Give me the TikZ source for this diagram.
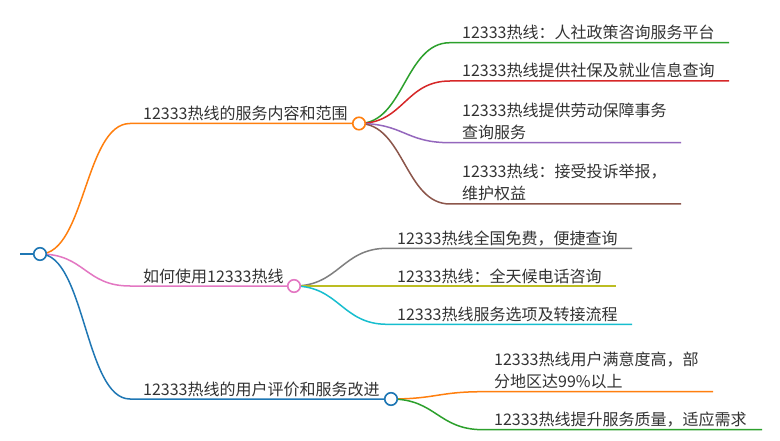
\documentclass[tikz,border=0pt]{standalone}
\usepackage{fontspec}
\setmainfont{Noto Sans CJK SC}
\usetikzlibrary{backgrounds}
\definecolor{cOr}{HTML}{FF7F0E}
\definecolor{cPk}{HTML}{E377C2}
\definecolor{cBl}{HTML}{1F77B4}
\definecolor{cGr}{HTML}{2CA02C}
\definecolor{cRd}{HTML}{D62728}
\definecolor{cPu}{HTML}{9467BD}
\definecolor{cBr}{HTML}{8C564B}
\definecolor{cGy}{HTML}{7F7F7F}
\definecolor{cOl}{HTML}{BCBD22}
\definecolor{cCy}{HTML}{17BECF}
\definecolor{txt}{HTML}{333333}
\begin{document}
\begin{tikzpicture}[x=1pt,y=-1pt,
  dot/.style={circle,draw,fill=white,line width=1.6pt,minimum size=12.5pt,inner sep=0pt},
  lbl/.style={anchor=base west,inner sep=0pt,font=\fontsize{16}{22}\selectfont,text=txt,align=left},
  br/.style={line width=1.5pt}]
\useasboundingbox (0,0) rectangle (780,441);
% hub nodes
\node[dot,draw=cBl] (root) at (40,254) {};
\coordinate (rin) at (20,254);
\node[dot,draw=cOr] (c1) at (359,123.5) {};
\node[dot,draw=cPk] (c2) at (294,286) {};
\node[dot,draw=cBl] (c3) at (391,399) {};
\coordinate (a1) at (130,123.5);
\coordinate (a2) at (130,286);
\coordinate (a3) at (130,399);
% main labels
\node[lbl] (t1) at (143,119.5) {12333热线的服务内容和范围};
\node[lbl] (t2) at (143,282) {如何使用12333热线};
\node[lbl] (t3) at (143,395) {12333热线的用户评价和服务改进};
% branch 1 leaves
\coordinate (s11) at (450,42.7); \coordinate (e11) at (729,42.7);
\coordinate (s12) at (450,81);   \coordinate (e12) at (729,81);
\coordinate (s13) at (450,142.7);\coordinate (e13) at (681,142.7);
\coordinate (s14) at (450,204);  \coordinate (e14) at (681,204);
\node[lbl] (l11) at (462,38.7) {12333热线：人社政策咨询服务平台};
\node[lbl] (l12) at (462,77) {12333热线提供社保及就业信息查询};
\node[lbl] (l13) at (462,138.7) {12333热线提供劳动保障事务\\查询服务};
\node[lbl] (l14) at (462,200) {12333热线：接受投诉举报，\\维护权益};
% branch 2 leaves
\coordinate (s21) at (387,248.3); \coordinate (e21) at (632,248.3);
\coordinate (s22) at (387,286);   \coordinate (e22) at (616,286);
\coordinate (s23) at (387,324.3); \coordinate (e23) at (632,324.3);
\node[lbl] (l21) at (397,244.3) {12333热线全国免费，便捷查询};
\node[lbl] (l22) at (397,282) {12333热线：全天候电话咨询};
\node[lbl] (l23) at (397,320.3) {12333热线服务选项及转接流程};
% branch 3 leaves
\coordinate (s31) at (483,391.7); \coordinate (e31) at (713,391.7);
\coordinate (s32) at (483,429.7); \coordinate (e32) at (762,429.7);
\node[lbl] (l31) at (494,387) {12333热线用户满意度高，部\\分地区达99\%以上};
\node[lbl] (l32) at (494,425.7) {12333热线提升服务质量，适应需求};
\begin{pgfonlayer}{background}
\fill[white] (0,0) rectangle (780,441);
\draw[cBl,line width=2pt] (rin) -- (root.center);
\draw[br,cOr] (root.center) .. controls +(45,0) and +(-45,0) .. (a1) -- (c1.center);
\draw[br,cPk] (root.center) .. controls +(45,0) and +(-45,0) .. (a2) -- (c2.center);
\draw[br,cBl] (root.center) .. controls +(45,0) and +(-45,0) .. (a3) -- (c3.center);
\draw[br,cGr] (c1.center) .. controls +(45,0) and +(-45,0) .. (s11) -- (e11);
\draw[br,cRd] (c1.center) .. controls +(45,0) and +(-45,0) .. (s12) -- (e12);
\draw[br,cPu] (c1.center) .. controls +(45,0) and +(-45,0) .. (s13) -- (e13);
\draw[br,cBr] (c1.center) .. controls +(45,0) and +(-45,0) .. (s14) -- (e14);
\draw[br,cGy] (c2.center) .. controls +(45,0) and +(-45,0) .. (s21) -- (e21);
\draw[br,cOl] (c2.center) -- (s22) -- (e22);
\draw[br,cCy] (c2.center) .. controls +(45,0) and +(-45,0) .. (s23) -- (e23);
\draw[br,cOr] (c3.center) .. controls +(45,0) and +(-45,0) .. (s31) -- (e31);
\draw[br,cGr] (c3.center) .. controls +(45,0) and +(-45,0) .. (s32) -- (e32);
\end{pgfonlayer}
\end{tikzpicture}
\end{document}
